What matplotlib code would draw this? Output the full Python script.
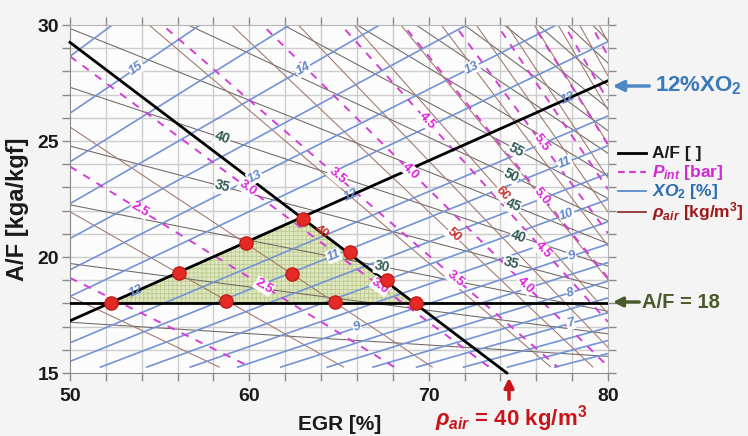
import numpy as np
import matplotlib
matplotlib.use("Agg")
import matplotlib.pyplot as plt
from matplotlib import font_manager as fm
from matplotlib.lines import Line2D


def pick_font(names):
    for n in names:
        try:
            fm.findfont(fm.FontProperties(family=n), fallback_to_default=False)
            return n
        except Exception:
            pass
    return "DejaVu Sans"


SANS = pick_font(["Liberation Sans", "Arial"])
NARROW = pick_font(["Liberation Sans Narrow", "Arial Narrow", SANS])
NARROW_SCALE = 1.0 if NARROW != SANS else 0.9

plt.rcParams["font.family"] = [SANS, "DejaVu Sans"]
plt.rcParams["mathtext.fontset"] = "custom"
plt.rcParams["mathtext.rm"] = f"{SANS}:bold"
plt.rcParams["mathtext.bf"] = f"{SANS}:bold"
plt.rcParams["mathtext.it"] = f"{SANS}:italic:bold"
plt.rcParams["hatch.linewidth"] = 0.6

# ---------------- data ----------------
# operating points (EGR [%], A/F)
egr_pts = [52.3, 56.1, 59.8, 58.7, 63.0, 62.4, 65.6, 64.8, 67.7, 69.3]
af_pts = [18.0, 19.3, 20.6, 18.1, 21.65, 19.25, 20.2, 18.07, 19.0, 18.0]

# intake O2 iso-lines, A/F = k * EGR
xo2_levels = [5.5, 6.0, 6.5, 7.0, 7.5, 8.0, 8.5, 9.0, 9.5, 10.0, 10.5,
              11.0, 11.5, 12.0, 12.5, 13.0, 13.5, 14.0, 14.5, 15.0, 15.5]
xo2_k = [0.198, 0.205, 0.212, 0.220, 0.228, 0.237, 0.247, 0.257, 0.269,
         0.281, 0.295, 0.310, 0.326, 0.345, 0.366, 0.389, 0.416, 0.446,
         0.482, 0.524, 0.573]

# intake pressure iso-lines, A/F = c * (100 - EGR)
pint_levels = [2.0, 2.5, 3.0, 3.5, 4.0, 4.5, 5.0, 5.5, 6.0, 6.5, 7.0, 7.5]
pint_c = [0.382, 0.478, 0.573, 0.669, 0.764, 0.860, 0.955, 1.051, 1.146,
          1.242, 1.337, 1.433]

# air density iso-lines, A/F = c * (100 - EGR)
rho_levels = [25, 30, 35, 40, 45, 50, 55, 60, 65, 70, 75, 80, 85, 90, 95, 100]
rho_c = [0.366, 0.439, 0.512, 0.585, 0.658, 0.732, 0.805, 0.878, 0.951,
         1.024, 1.097, 1.170, 1.244, 1.317, 1.390, 1.463]

# second density set, A/F = 14.8 + s * (98.7 - EGR)
rho2_levels = [20, 25, 30, 35, 40, 45, 50, 55, 60, 65, 70, 75, 80, 85, 90]
rho2_s = [0.049, 0.101, 0.153, 0.205, 0.257, 0.309, 0.361, 0.413, 0.465,
          0.517, 0.569, 0.621, 0.673, 0.725, 0.777]
rho2_pivot = (98.7, 14.8)

af_floor = 15.25       # lower edge of the mapped region
af_limit = 18.0        # A/F = 18 limit
xo2_limit = 12.0       # 12 % XO2 limit
rho_limit = 40         # 40 kg/m3 limit

# contour labels: (level, EGR position)
xo2_labels = [(15, 53.7), (14, 63.0), (13, 60.3), (13, 72.4), (12, 53.7),
              (12, 65.7), (12, 77.8), (11, 64.7), (11, 77.6), (10, 77.7),
              (9, 78.0), (9, 66.0), (8, 77.9), (7, 77.9)]
pint_labels = [(2.5, 53.9), (2.5, 60.8), (3.0, 59.9), (3.0, 67.3),
               (3.5, 64.9), (3.5, 71.5), (4.0, 69.0), (4.0, 75.4),
               (4.5, 69.9), (4.5, 76.4), (5.0, 76.3), (5.5, 76.3)]
rho_labels = [(40, 64.0), (50, 71.4), (60, 74.1)]
rho2_labels = [(40, 58.5), (35, 58.5), (30, 67.4), (55, 74.9), (50, 74.6),
               (45, 74.7), (40, 75.0), (35, 74.6)]

# ---------------- line models ----------------
def af_xo2(egr, k):
    return k * egr


def af_fan(egr, c):
    return c * (100.0 - egr)


def af_rho2(egr, s):
    return rho2_pivot[1] + s * (rho2_pivot[0] - egr)


W, H = 748, 436
fig = plt.figure(figsize=(W / 100, H / 100), dpi=100, facecolor="#f4f4f4")
ax = fig.add_axes([70 / W, 1 - 373 / H, (608 - 70) / W, (373 - 25) / H])
ax.set_facecolor("#fcfcfc")
ax.set_xlim(50, 80)
ax.set_ylim(15, 30)

# grid
for gx in np.arange(52, 80, 2):
    ax.axvline(gx, color="#cdcdcd", lw=1.0, zorder=0.5)
for gy in np.arange(16, 30, 1):
    ax.axhline(gy, color="#cdcdcd", lw=1.0, zorder=0.5)

egr_grid = np.linspace(50, 80, 1201)


def draw_family(func, params, **kw):
    for p in params:
        af = func(egr_grid, p)
        af = np.where((af >= af_floor) & (af <= 30.3), af, np.nan)
        ax.plot(egr_grid, af, **kw)


# feasible region
k12 = xo2_k[xo2_levels.index(xo2_limit)]
c40 = rho_c[rho_levels.index(rho_limit)]
x_a = af_limit / k12
x_b = 100 - af_limit / c40
x_c = 100 * c40 / (k12 + c40)
tri_x = [x_a, x_c, x_b]
tri_y = [af_limit, af_xo2(x_c, k12), af_limit]
ax.fill(tri_x, tri_y, facecolor="#dfe6c0", edgecolor="none", zorder=1)
ax.fill(tri_x, tri_y, facecolor="none", edgecolor="#bccb90", hatch="++++",
        linewidth=0, zorder=1.1)

draw_family(af_rho2, rho2_s, color="#6e6662", lw=0.75, zorder=2)
draw_family(af_fan, rho_c, color="#a07468", lw=0.75, zorder=2)
draw_family(af_xo2, xo2_k, color="#7393d4", lw=1.2, zorder=2.2)
draw_family(af_fan, pint_c, color="#d23ed6", lw=1.4, ls=(0, (4, 4)), zorder=2.4)

# limit lines
ax.plot([50, 80], [af_limit, af_limit], color="black", lw=2.0, zorder=3)
ax.plot([50, 80], [af_xo2(50, k12), af_xo2(80, k12)], color="black", lw=2.0, zorder=3)
x_end = 100 - 15.0 / c40
ax.plot([50, x_end], [af_fan(50, c40), af_fan(x_end, c40)], color="black",
        lw=2.0, zorder=3, clip_on=False)


def put_label(text, x, y, slope, color, size, style="normal", box=True, z=4):
    kw = dict(ha="center", va="center", rotation=np.degrees(np.arctan(slope)),
              rotation_mode="anchor", transform_rotates_text=True,
              color=color, fontsize=size, fontweight="bold", fontstyle=style,
              family=[NARROW, "DejaVu Sans"], zorder=z)
    if box:
        kw["bbox"] = dict(boxstyle="square,pad=0.05", fc="#fcfcfc", ec="none")
    ax.text(x, y, text, **kw)


for lev, x in xo2_labels:
    k = xo2_k[xo2_levels.index(lev)]
    put_label(f"{lev:g}", x, af_xo2(x, k), k, "#6488c8", 10.5 * NARROW_SCALE,
              style="italic", box=(lev != xo2_limit), z=3.5)
for lev, x in pint_labels:
    c = pint_c[pint_levels.index(lev)]
    put_label(f"{lev:.1f}", x, af_fan(x, c), -c, "#e020e0", 10.5 * NARROW_SCALE)
for lev, x in rho_labels:
    c = rho_c[rho_levels.index(lev)]
    put_label(f"{lev}", x, af_fan(x, c), -c, "#c8302a", 10.5 * NARROW_SCALE,
              box=(lev != rho_limit), z=3.5)
for lev, x in rho2_labels:
    s = rho2_s[rho2_levels.index(lev)]
    put_label(f"{lev}", x, af_rho2(x, s), -s, "#2f5a55", 11 * NARROW_SCALE)

ax.plot(egr_pts, af_pts, "o", ms=9.5, mfc="#e42a25", mec="#c41c18", mew=1.0,
        zorder=6)

# axes styling
for side in ["left", "bottom"]:
    ax.spines[side].set_color("#8a8a8a")
for side in ["top", "right"]:
    ax.spines[side].set_color("#b5b5b5")
ax.set_xticks(np.arange(50, 81, 2))
ax.set_xticklabels([f"{v}" if v % 10 == 0 else "" for v in range(50, 81, 2)])
ax.set_yticks(np.arange(15, 31, 1))
ax.set_yticklabels([f"{v}" if v % 5 == 0 else "" for v in range(15, 31)])
ax.tick_params(direction="out", length=6, width=1, color="#8a8a8a",
               top=True, right=True, labelsize=15.5 * NARROW_SCALE, pad=2)
ax.tick_params(axis="x", pad=5)
for lab in ax.get_xticklabels() + ax.get_yticklabels():
    lab.set_fontweight("bold")
    lab.set_family([NARROW, "DejaVu Sans"])
    lab.set_color("#1a1a1a")


def fx(px):
    return px / W


def fy(py):
    return 1 - py / H


fig.text(fx(18), fy(209), "A/F [kga/kgf]", rotation=90, ha="center",
         va="center", fontsize=17, fontweight="bold", color="#1a1a1a",
         family=[NARROW, "DejaVu Sans"])
fig.text(fx(340), fy(424), "EGR [%]", ha="center", va="center", fontsize=15,
         fontweight="bold", color="#1a1a1a", family=[NARROW, "DejaVu Sans"])

# right-hand notes
ax.annotate("", xy=(610, H - 86), xycoords="figure pixels",
            xytext=(652, H - 86), textcoords="figure pixels",
            arrowprops=dict(arrowstyle="-|>", color="#4f86c6", lw=2.5,
                            mutation_scale=16))
fig.text(fx(655), fy(86), "12%XO$_2$", ha="left", va="center", fontsize=16,
         fontweight="bold", color="#3a78b8")

ax.annotate("", xy=(610, H - 302), xycoords="figure pixels",
            xytext=(642, H - 302), textcoords="figure pixels",
            arrowprops=dict(arrowstyle="-|>", color="#4b5a2c", lw=2.5,
                            mutation_scale=14))
fig.text(fx(642), fy(302), "A/F = 18", ha="left", va="center", fontsize=14.5,
         fontweight="bold", color="#4b5a2c")

ax.annotate("", xy=(509, H - 375), xycoords="figure pixels",
            xytext=(509, H - 402), textcoords="figure pixels",
            arrowprops=dict(arrowstyle="-|>", color="#c8141a", lw=2.5,
                            mutation_scale=14))
fig.text(fx(435), fy(419), r"$\rho_{air}$ = 40 kg/m$^3$", ha="left",
         va="center", fontsize=16, fontweight="bold", color="#c8141a")

# key
key = [
    ("A/F [ ]", dict(color="black", lw=2.0), "#1a1a1a"),
    (r"$P_{int}$ [bar]", dict(color="#d23ed6", lw=1.6, ls=(0, (3, 2))), "#d428d4"),
    (r"$XO_2$ [%]", dict(color="#5a8ad0", lw=1.3), "#2a6cb0"),
    (r"$\rho_{air}$ [kg/m$^3$]", dict(color="#8b2020", lw=1.2), "#a01818"),
]
for i, (txt, lkw, tc) in enumerate(key):
    yy = [153, 172, 191, 212][i]
    fig.add_artist(Line2D([fx(618), fx(646)], [fy(yy), fy(yy)],
                          transform=fig.transFigure, **lkw))
    fig.text(fx(652), fy(yy), txt, ha="left", va="center", fontsize=12.5,
             fontweight="bold", color=tc)

fig.savefig("out.png", dpi=100, facecolor=fig.get_facecolor())
